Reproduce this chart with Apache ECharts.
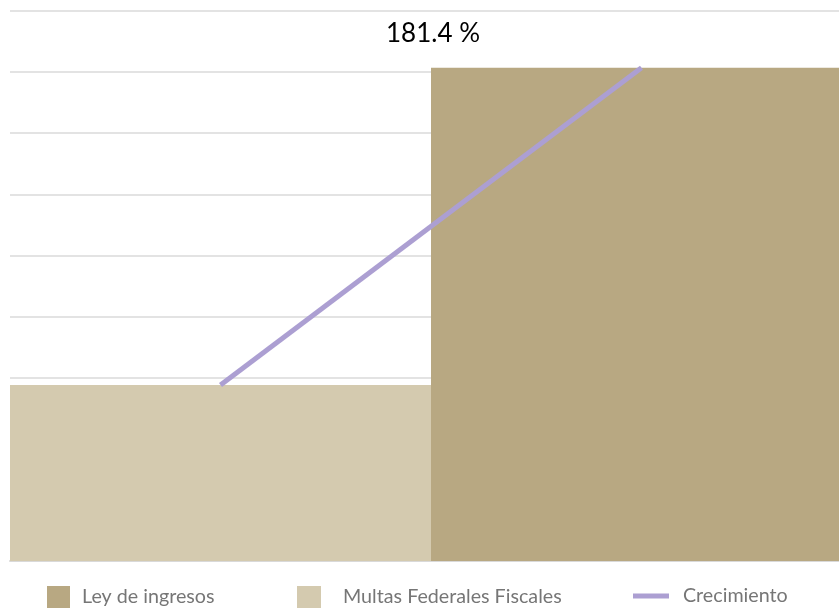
<!DOCTYPE html>
<html>
<head>
<meta charset="utf-8">
<script src="https://cdn.jsdelivr.net/npm/echarts@6/dist/echarts.min.js"></script>
<style>html,body{margin:0;padding:0;background:#fff;}#c{width:839px;height:608px;}</style>
</head>
<body>
<div id="c"></div>
<script>
var categories = ['Multas Federales Fiscales', 'Ley de ingresos'];
var leyIngresos = ['-', 8.07];
var multasFederales = [2.88, '-'];
var crecimiento = [2.88, 8.07];
var titleText = '181.4 %';
var yMin = 0, yMax = 9, yInterval = 1;

var chart = echarts.init(document.getElementById('c'), null, {renderer: 'canvas'});
var font = 'Lato';
var legendText = {fontFamily: font, fontSize: 19.7, color: '#767676'};
chart.setOption({
  animation: false,
  backgroundColor: '#ffffff',
  title: {
    text: titleText, left: 428, top: 16, textAlign: 'center',
    textStyle: {fontFamily: font, fontSize: 26, fontWeight: 'normal', color: '#000000'}
  },
  grid: {left: 10, width: 842, top: 11, bottom: 47, containLabel: false, outerBoundsMode: 'none'},
  xAxis: {
    type: 'category', data: categories, boundaryGap: true,
    axisLine: {show: true, lineStyle: {color: '#d9d9d9', width: 2}},
    axisTick: {show: false}, axisLabel: {show: false}
  },
  yAxis: {
    type: 'value', min: yMin, max: yMax, interval: yInterval,
    axisLine: {show: false}, axisTick: {show: false}, axisLabel: {show: false},
    splitLine: {show: true, lineStyle: {color: '#e3e3e3', width: 2}}
  },
  legend: [
    {data: ['Ley de ingresos'], left: 47, top: 586, padding: 0, itemWidth: 23, itemHeight: 22, icon: 'rect',
     textStyle: Object.assign({padding: [0, 0, 0, 7]}, legendText)},
    {data: ['Multas Federales Fiscales'], left: 297, top: 586, padding: 0, itemWidth: 24, itemHeight: 22, icon: 'rect',
     textStyle: Object.assign({padding: [0, 0, 0, 17]}, legendText)},
    {data: ['Crecimiento'], left: 633, top: 586, padding: 0, itemWidth: 36, itemHeight: 5, icon: 'rect',
     textStyle: Object.assign({padding: [0, 0, 0, 9]}, legendText)}
  ],
  series: [
    {name: 'Ley de ingresos', type: 'bar', data: leyIngresos, barCategoryGap: '0%', barGap: '-100%',
     itemStyle: {color: '#b8a882'}},
    {name: 'Multas Federales Fiscales', type: 'bar', data: multasFederales, barCategoryGap: '0%', barGap: '-100%',
     itemStyle: {color: '#d4caaf'}},
    {name: 'Crecimiento', type: 'line', data: crecimiento, showSymbol: false, symbol: 'none', z: 5,
     lineStyle: {color: '#ac9fd2', width: 5, cap: 'butt'}, itemStyle: {color: '#ac9fd2'}}
  ]
});
</script>
</body>
</html>
